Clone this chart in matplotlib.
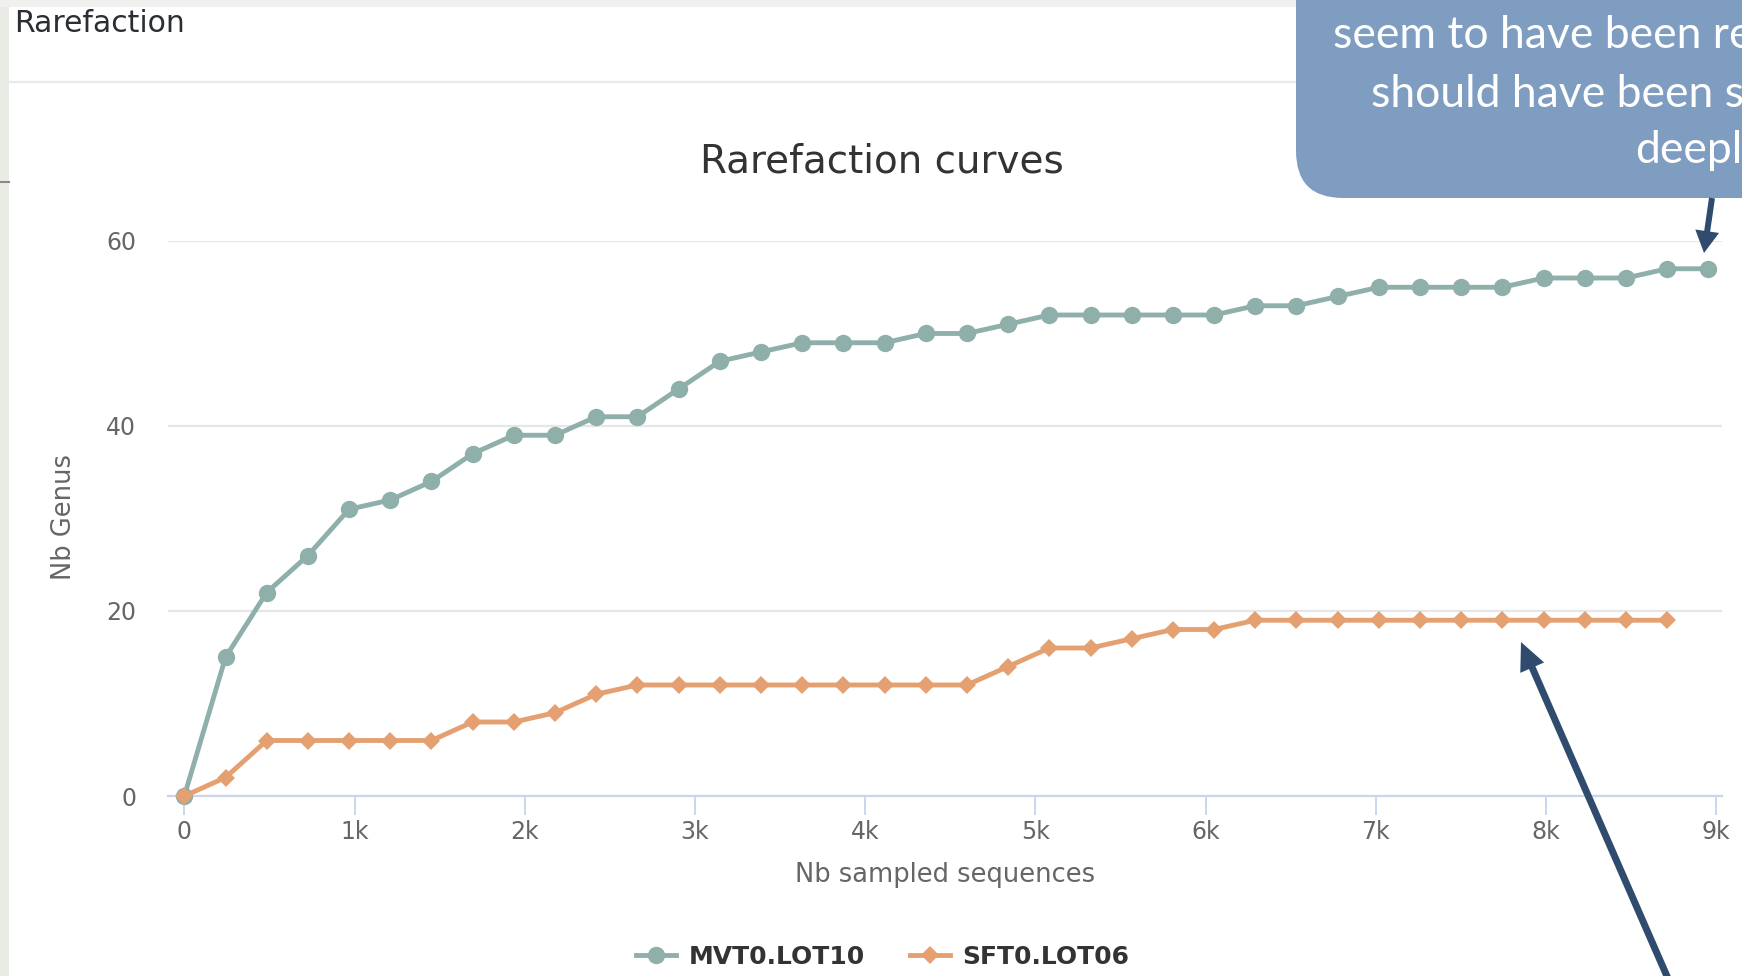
"""
Rarefaction curves (screenshot of a Highcharts panel on a slide, with a callout).
"""

import matplotlib.pyplot as plt
from matplotlib.patches import FancyBboxPatch, FancyArrow, Rectangle

OUTPUT_FILE = 'out.png'

# 1. Data
sampled = [0, 242, 484, 726, 968, 1210, 1452, 1694, 1936, 2178,
           2420, 2662, 2904, 3146, 3388, 3630, 3872, 4114, 4356, 4598,
           4840, 5082, 5324, 5566, 5808, 6050, 6292, 6534, 6776, 7018,
           7260, 7502, 7744, 7986, 8228, 8470, 8712, 8954]

mvt_genus = [0, 15, 22, 26, 31, 32, 34, 37, 39, 39,
             41, 41, 44, 47, 48, 49, 49, 49, 50, 50,
             51, 52, 52, 52, 52, 52, 53, 53, 54, 55,
             55, 55, 55, 56, 56, 56, 57, 57]

sft_genus = [0, 2, 6, 6, 6, 6, 6, 8, 8, 9,
             11, 12, 12, 12, 12, 12, 12, 12, 12, 12,
             14, 16, 16, 17, 18, 18, 19, 19, 19, 19,
             19, 19, 19, 19, 19, 19, 19]

series_names = ['MVT0.LOT10', 'SFT0.LOT06']
x_ticks = [0, 1000, 2000, 3000, 4000, 5000, 6000, 7000, 8000, 9000]
x_tick_labels = ['0', '1k', '2k', '3k', '4k', '5k', '6k', '7k', '8k', '9k']
y_ticks = [0, 20, 40, 60]

callout_lines = ['seem to have been re', 'should have been s', 'deepl']

GREEN = '#8fafab'
ORANGE = '#e5a072'
NAVY = '#2f4b6e'
W, H = 1742, 976


def main():
    fig = plt.figure(figsize=(W / 100, H / 100), dpi=100)
    fig.patch.set_facecolor('white')

    # background layer (slide edges, panel header)
    bg = fig.add_axes([0, 0, 1, 1], zorder=0)
    bg.set_xlim(0, W)
    bg.set_ylim(H, 0)
    bg.axis('off')
    bg.add_patch(Rectangle((0, 0), 9, H, color='#e9ece5', lw=0))
    bg.add_patch(Rectangle((0, 0), W, 7, color='#f0f1ee', lw=0))
    bg.plot([0, 9], [182, 182], color='#8a8a8a', lw=1.5)
    bg.plot([9, W], [82, 82], color='#e8e9ea', lw=1.6)
    bg.text(14, 23, 'Rarefaction', fontsize=21.5, color='#2b2f33',
            va='center', ha='left')

    # 2. Main chart
    ax = fig.add_axes([168 / W, 1 - 796 / H, (1722 - 168) / W, (796 - 241) / H], zorder=1)
    ax.patch.set_alpha(0)

    ax.plot(sampled, mvt_genus, color=GREEN, lw=3.5, marker='o', markersize=12.5,
            markeredgewidth=0, label=series_names[0], clip_on=False, zorder=3)
    ax.plot(sampled[:len(sft_genus)], sft_genus, color=ORANGE, lw=3.5, marker='D',
            markersize=9.5, markeredgewidth=0, label=series_names[1], clip_on=False, zorder=3)

    ax.set_xlim(-96, 9034)
    ax.set_ylim(0, 60)
    ax.set_xticks(x_ticks)
    ax.set_xticklabels(x_tick_labels)
    ax.set_yticks(y_ticks)

    for s in ['top', 'right', 'left']:
        ax.spines[s].set_visible(False)
    ax.spines['bottom'].set_color('#ccd6eb')
    ax.spines['bottom'].set_linewidth(1.6)

    ax.yaxis.grid(True, color='#e6e6e6', lw=1.6)
    ax.set_axisbelow(True)
    ax.tick_params(axis='x', length=14, width=1.4, color='#ccd6eb', pad=3,
                   labelsize=17, labelcolor='#666666')
    ax.tick_params(axis='y', length=0, pad=23, labelsize=17, labelcolor='#666666')

    ax.set_xlabel('Nb sampled sequences', fontsize=18.5, color='#666666')
    ax.xaxis.set_label_coords(0.5, (796 - 875) / 555)
    ax.xaxis.label.set_va('center')
    ax.set_ylabel('Nb Genus', fontsize=18.5, color='#666666')
    ax.yaxis.set_label_coords((64 - 168) / 1554, 0.503)
    ax.yaxis.label.set_va('center')

    fig.text(882 / W, 1 - 162 / H, 'Rarefaction curves', fontsize=28,
             color='#333333', ha='center', va='center')

    leg = ax.legend(loc='center', bbox_to_anchor=(883 / W, 1 - 957 / H),
                    bbox_transform=fig.transFigure, ncol=2, frameon=False,
                    handlelength=1.6, columnspacing=1.8, handletextpad=0.5,
                    numpoints=1, prop=dict(weight='bold', size=18))
    for t in leg.get_texts():
        t.set_color('#333333')

    # 3. Callout and arrows on top
    fg = fig.add_axes([0, 0, 1, 1], zorder=2)
    fg.set_xlim(0, W)
    fg.set_ylim(H, 0)
    fg.axis('off')
    fg.patch.set_alpha(0)
    box = FancyBboxPatch((1296, -100), 600, 298,
                         boxstyle='round,pad=0,rounding_size=47',
                         facecolor='#7f9dc1', edgecolor='none')
    fg.add_patch(box)
    for txt, x0, yb in zip(callout_lines, [1333, 1371, 1635], [48, 107, 163]):
        fg.text(x0, yb, txt, fontsize=32, color='white', family='Lato',
                ha='left', va='baseline')

    fg.add_patch(FancyArrow(1712, 198, -8, 55, width=6, head_width=24,
                            head_length=22, length_includes_head=True,
                            color=NAVY, lw=0))
    fg.add_patch(FancyArrow(1673, 990, -152, -348, width=7, head_width=26,
                            head_length=28, length_includes_head=True,
                            color=NAVY, lw=0))

    fig.savefig(OUTPUT_FILE, dpi=100)


if __name__ == "__main__":
    main()
